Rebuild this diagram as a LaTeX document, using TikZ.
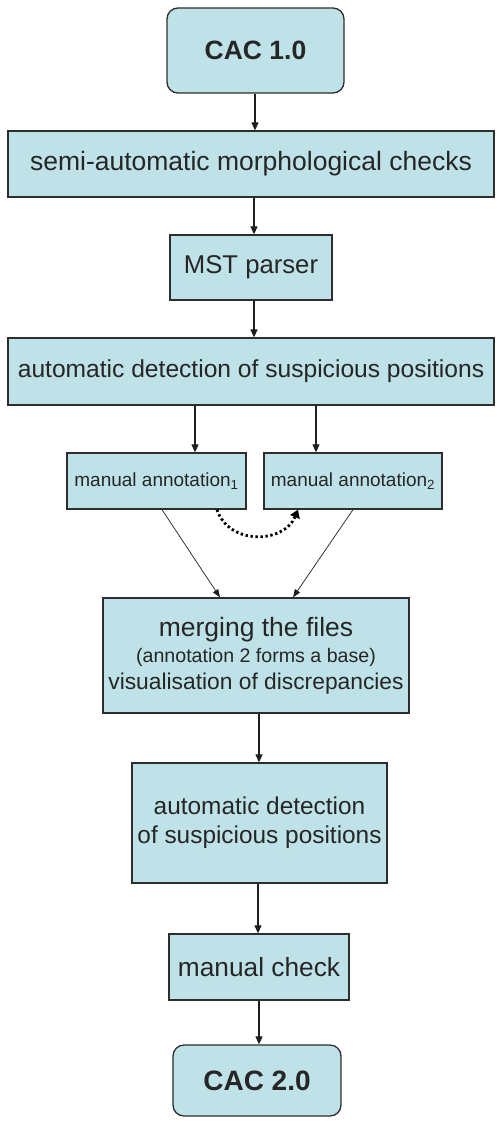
\documentclass[tikz,border=0pt]{standalone}
\usepackage{fontspec}
\setmainfont{Liberation Sans}
\usetikzlibrary{arrows.meta,calc}
\definecolor{boxfill}{RGB}{190,226,231}
\definecolor{boxline}{RGB}{45,45,45}
\definecolor{wireline}{RGB}{30,30,30}
\newcommand{\fs}[2]{\fontsize{#1}{#2}\selectfont}
\tikzset{
  stepbox/.style={draw=boxline, fill=boxfill, line width=1.3pt, inner sep=0pt, align=center, text=black!85},
  endbox/.style={stepbox, rounded corners=11pt},
  flow/.style={draw=wireline, line width=1.1pt, -{Triangle[width=7pt,length=8pt]}},
  thinflow/.style={draw=wireline, line width=0.7pt, -{Triangle[width=6pt,length=8pt]}},
  dotflow/.style={draw=black, line width=2.8pt, dash pattern=on 2.4pt off 2.6pt, -{Triangle[width=10pt,length=8pt]}}
}
\begin{document}
\begin{tikzpicture}[x=1pt,y=-1pt]
\useasboundingbox (0,0) rectangle (497,1122);

% boxes
\node[endbox, minimum width=177pt, minimum height=85pt, font=\fs{26.5}{30}\bfseries] (cac1) at (255.5,50.5) {CAC 1.0};
\node[stepbox, minimum width=486pt, minimum height=66pt, font=\fs{26.5}{30}] (morph) at (251,164) {semi-automatic morphological checks};
\node[stepbox, minimum width=162pt, minimum height=65pt, font=\fs{25.7}{30}] (mst) at (251,267.5) {MST parser};
\node[stepbox, minimum width=486pt, minimum height=67pt, font=\fs{24.6}{30}] (detect) at (251,371.5) {automatic detection of suspicious positions};
\node[stepbox, minimum width=179pt, minimum height=56pt, font=\fs{19}{22}] (ann1) at (156.5,481) {manual annotation\textsubscript{1}};
\node[stepbox, minimum width=178pt, minimum height=56pt, font=\fs{19}{22}] (ann2) at (353,481) {manual annotation\textsubscript{2}};
\node[stepbox, minimum width=306pt, minimum height=115pt, font=\fs{22}{26.5}] (merge) at (256,655.5)
  {{\fs{26.5}{26.5}merging the files}\\ {\fs{19.6}{26.5}(annotation 2 forms a base)}\\ {\fs{22.8}{26.5}visualisation of discrepancies}};
\node[stepbox, minimum width=255pt, minimum height=120pt, font=\fs{24.4}{29}] (detect2) at (259.5,823)
  {automatic detection\\ of suspicious positions};
\node[stepbox, minimum width=180pt, minimum height=66pt, font=\fs{26.3}{30}] (check) at (259,967) {manual check};
\node[endbox, minimum width=168pt, minimum height=71pt, font=\fs{28}{30}\bfseries] (cac2) at (257,1080.5) {CAC 2.0};

% vertical connectors
\draw[flow] ([xshift=-0.5pt]cac1.south) -- ([xshift=-0.5pt]cac1.south |- morph.north);
\draw[flow] ([xshift=3pt]morph.south) -- ([xshift=3pt]mst.north);
\draw[flow] ([xshift=3pt]mst.south) -- ([xshift=3pt]mst.south |- detect.north);
\draw[flow] ([xshift=38.5pt]ann1.north |- detect.south) -- ([xshift=38.5pt]ann1.north);
\draw[flow] ([xshift=-37pt]ann2.north |- detect.south) -- ([xshift=-37pt]ann2.north);
\draw[flow] ([xshift=3pt]merge.south) -- ([xshift=-0.5pt]detect2.north);
\draw[flow] ([xshift=-1.5pt]detect2.south) -- ([xshift=-1.5pt]detect2.south |- check.north);
\draw[flow] (check.south) -- (check.south |- cac2.north);

% the two annotations feed the merge
\draw[thinflow] ([xshift=5.5pt]ann1.south) -- ([xshift=-36pt]merge.north);
\draw[thinflow] (ann2.south) -- ([xshift=37pt]merge.north);

% annotation 1 is carried over into annotation 2
\draw[dotflow] ([xshift=60.5pt]ann1.south) .. controls +(12,36) and +(-14,34) .. ([xshift=-55pt]ann2.south);
\end{tikzpicture}
\end{document}
